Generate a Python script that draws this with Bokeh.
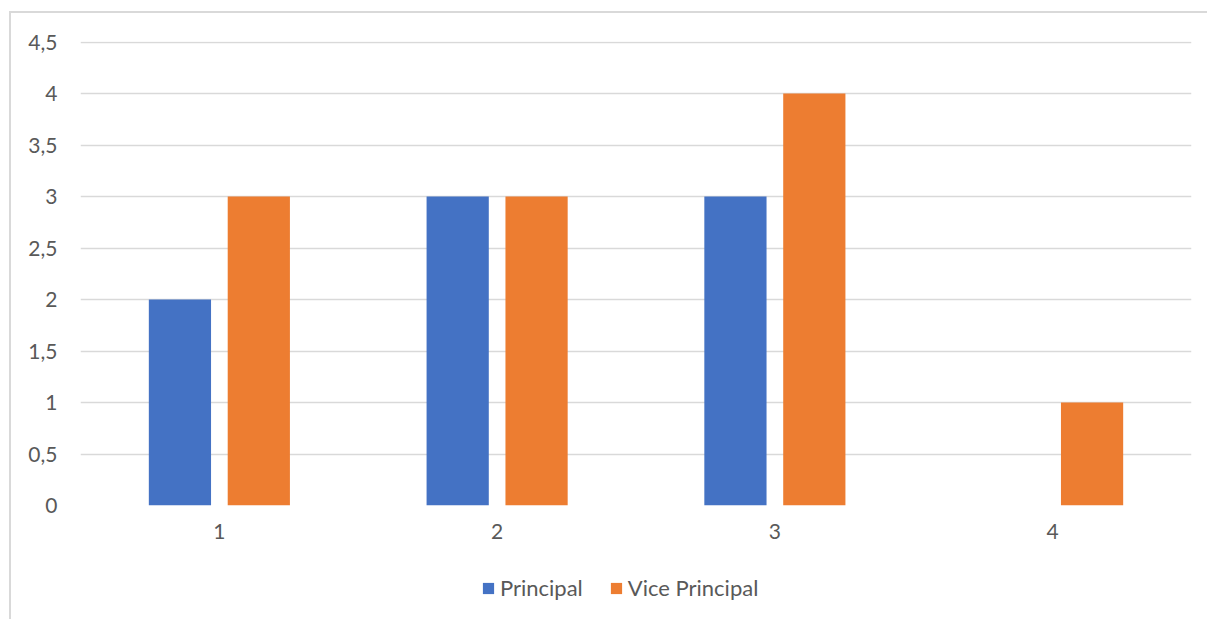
from bokeh.plotting import figure
from bokeh.layouts import column
from bokeh.models import FactorRange, Range1d, FixedTicker, Legend, LegendItem, ColumnDataSource
from bokeh.transform import dodge
from bokeh.embed import file_html
from bokeh.resources import INLINE

categories = ["1", "2", "3", "4"]
principal = [2, 3, 3, 0]
vice_principal = [3, 3, 4, 1]
series_names = ["Principal", "Vice Principal"]
colors = ["#4472C4", "#ED7D31"]
y_ticks = [0, 0.5, 1, 1.5, 2, 2.5, 3, 3.5, 4, 4.5]
y_tick_labels = ["0", "0,5", "1", "1,5", "2", "2,5", "3", "3,5", "4", "4,5"]

FONT = "Lato"
FS = "21px"
TXT = "#595959"
GRID = "#d9d9d9"
BORDER = "2px solid #d9d9d9"

src = ColumnDataSource(dict(cat=categories, p=principal, v=vice_principal))
xr = FactorRange(*categories, range_padding=0)

# main chart: canvas at page (11, 13)
p = figure(width=1198, height=547, x_range=xr,
           y_range=Range1d(0, 4.505), output_backend="svg", toolbar_location=None,
           min_border_left=69, min_border_right=18, min_border_top=28, min_border_bottom=55,
           margin=(11, 0, 0, 9),
           styles={"border-left": BORDER, "border-top": BORDER})
p.outline_line_color = None
p.background_fill_color = "white"
p.border_fill_color = "white"

p.vbar(x=dodge("cat", -0.142, range=xr), top="p", width=0.224, source=src,
       fill_color=colors[0], line_color=None)
p.vbar(x=dodge("cat", 0.142, range=xr), top="v", width=0.224, source=src,
       fill_color=colors[1], line_color=None)

p.yaxis.ticker = FixedTicker(ticks=y_ticks)
p.yaxis.major_label_overrides = {t: l for t, l in zip(y_ticks, y_tick_labels)}
for ax in (p.xaxis[0], p.yaxis[0]):
    ax.axis_line_color = None
    ax.major_tick_line_color = None
    ax.minor_tick_line_color = None
    ax.major_tick_out = 0
    ax.major_tick_in = 0
    ax.major_label_text_font = FONT
    ax.major_label_text_font_size = FS
    ax.major_label_text_color = TXT
p.yaxis.major_label_standoff = 23
p.xaxis.major_label_standoff = 18
p.xgrid.grid_line_color = None
p.ygrid.grid_line_color = GRID
p.ygrid.grid_line_width = 1.3

# legend strip below the chart (page y 560..621); its frame is aligned with the chart's frame
lg = figure(width=1198, height=61, x_range=xr, y_range=Range1d(100, 101),
            x_axis_type=None, y_axis_type=None, output_backend="svg", toolbar_location=None,
            min_border_left=0, min_border_right=0, min_border_top=0, min_border_bottom=0,
            margin=(0, 0, 0, 9), styles={"border-left": BORDER})
lg.outline_line_color = None
lg.grid.visible = False
# same series, out of this strip's view: only their legend swatches show
lr1 = lg.vbar(x=dodge("cat", -0.142, range=xr), top="p", width=0.224, source=src,
              fill_color=colors[0], line_color=None)
lr2 = lg.vbar(x=dodge("cat", 0.142, range=xr), top="v", width=0.224, source=src,
              fill_color=colors[1], line_color=None)
legend = Legend(items=[LegendItem(label=series_names[0], renderers=[lr1], index=0),
                       LegendItem(label=series_names[1], renderers=[lr2], index=0)],
                orientation="horizontal", location=(401, 18),
                glyph_width=14, glyph_height=14, label_standoff=5, spacing=26,
                padding=0, margin=0, border_line_color=None, background_fill_alpha=0,
                label_text_font=FONT, label_text_font_size="22px", label_text_color=TXT,
                label_height=25)
lg.add_layout(legend, "center")

layout = column(p, lg, spacing=0)
open("out.html", "w").write(file_html(layout, INLINE))
